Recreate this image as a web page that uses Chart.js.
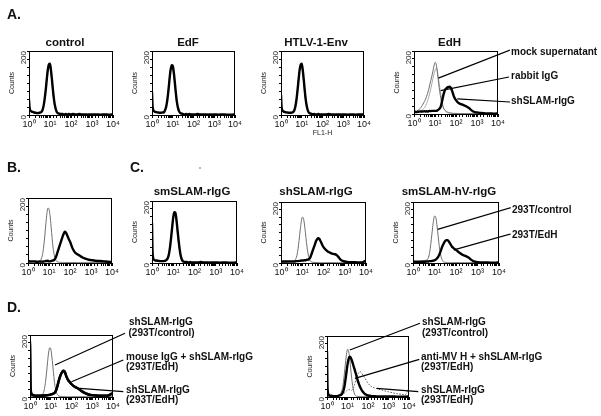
<!DOCTYPE html>
<html>
<head>
<meta charset="utf-8">
<script src="https://cdn.jsdelivr.net/npm/chart.js@4"></script>
<style>
html, body { margin: 0; padding: 0; background: #fff; }
#fig { position: relative; width: 601px; height: 416px; overflow: hidden; }
#fig canvas { position: absolute; }
#notes { position: absolute; left: 0; top: 0; }
</style>
</head>
<body>
<div id="fig"></div>
<script>
// FL1-H channel values (log spaced, 10^0 .. 10^4)
var fl1 = [1, 1.07, 1.26, 1.58, 2, 2.51,
  3.16, 3.55, 3.98, 4.47, 5.01, 5.62, 6.31, 7.08, 7.94, 8.91,
  10, 11.2, 12.6, 14.1, 15.8, 17.8, 20, 22.4, 25.1, 28.2,
  31.6, 35.5, 39.8, 44.7, 50.1, 56.2, 63.1, 70.8, 79.4, 89.1,
  100, 126, 158, 200, 251, 316, 398, 501, 631, 794,
  1000, 1585, 2512, 3981, 6310, 10000];
var decadeLabels = ['10\u2070', '10\u00b9', '10\u00b2', '10\u00b3', '10\u2074'];
var countTicks = [0, 200];

// A. control / EdF / HTLV-1-Env / EdH
var controlStain = [48, 22, 12, 9, 7, 6,
  7, 8, 10, 17, 30, 52, 80, 114, 143, 158,
  160, 138, 106, 72, 44, 25, 13, 7, 5, 4,
  3, 3, 3, 2, 2, 3, 2, 2, 3, 2,
  2, 3, 2, 2, 3, 2, 2, 2, 1, 2,
  2, 2, 1, 2, 1, 2];
var controlIso = [40, 18, 10, 8, 6, 6,
  6, 8, 11, 18, 32, 55, 84, 118, 142, 152,
  150, 130, 98, 66, 40, 22, 12, 6, 4, 3,
  2, 2, 2, 1, 2, 1, 1, 2, 1, 1,
  1, 1, 2, 1, 1, 1, 1, 1, 1, 1,
  1, 1, 1, 1, 1, 1];
var edfStain = [72, 26, 12, 9, 8, 7,
  8, 8, 11, 18, 31, 53, 82, 115, 142, 156,
  154, 134, 102, 69, 41, 23, 12, 7, 5, 4,
  3, 2, 2, 3, 2, 2, 3, 2, 2, 2,
  2, 2, 3, 2, 2, 2, 2, 1, 2, 1,
  2, 1, 2, 1, 1, 2];
var edfIso = [58, 20, 10, 8, 7, 6,
  7, 9, 12, 20, 34, 58, 88, 120, 143, 150,
  145, 124, 92, 60, 36, 20, 11, 6, 4, 3,
  2, 2, 1, 2, 1, 1, 2, 1, 1, 1,
  1, 1, 1, 1, 2, 1, 1, 1, 1, 1,
  1, 1, 1, 1, 1, 1];
var htlvStain = [63, 24, 12, 9, 8, 7,
  7, 8, 10, 16, 29, 50, 79, 112, 142, 157,
  160, 140, 108, 74, 45, 25, 13, 7, 5, 4,
  3, 2, 3, 2, 2, 2, 3, 2, 2, 2,
  2, 2, 2, 3, 2, 2, 1, 2, 2, 1,
  2, 1, 2, 1, 2, 1];
var htlvIso = [50, 18, 10, 8, 7, 6,
  6, 8, 11, 18, 31, 54, 85, 118, 141, 150,
  150, 130, 97, 64, 38, 21, 11, 6, 4, 3,
  2, 2, 2, 1, 1, 2, 1, 1, 1, 1,
  1, 1, 1, 1, 1, 1, 2, 1, 1, 1,
  1, 1, 1, 1, 1, 1];
var edhMock = [5, 5, 8, 12, 18, 28,
  40, 47, 56, 66, 78, 92, 106, 120, 136, 152,
  164, 160, 140, 112, 84, 60, 40, 28, 19, 14,
  11, 8, 6, 5, 4, 3, 3, 2, 2, 2,
  2, 1, 1, 1, 1, 1, 1, 1, 1, 1,
  1, 1, 1, 1, 1, 1];
var edhRabbit = [3, 3, 4, 6, 9, 14,
  20, 26, 33, 42, 53, 66, 80, 96, 112, 126,
  138, 145, 140, 120, 96, 74, 54, 36, 22, 13,
  8, 5, 4, 3, 2, 2, 2, 1, 1, 1,
  1, 1, 1, 1, 1, 1, 1, 1, 1, 1,
  1, 1, 1, 1, 1, 1];
var edhStain = [12, 8, 6, 7, 8, 8,
  9, 8, 9, 8, 9, 10, 9, 10, 10, 10,
  10, 10, 11, 13, 16, 20, 30, 45, 60, 72,
  79, 82, 85, 86, 87, 84, 76, 66, 56, 49,
  44, 36, 32, 30, 27, 24, 20, 14, 9, 6,
  5, 3, 2, 2, 1, 2];

// B.
var bIso = [3, 2, 2, 2, 3, 4,
  3, 5, 9, 16, 29, 52, 84, 120, 152, 169,
  166, 146, 112, 76, 45, 24, 12, 6, 4, 3,
  2, 2, 2, 1, 2, 1, 1, 2, 1, 1,
  1, 1, 2, 1, 1, 1, 1, 1, 1, 1,
  1, 1, 1, 1, 1, 1];
var bStain = [8, 6, 5, 5, 5, 4,
  4, 5, 4, 5, 4, 5, 5, 6, 6, 7,
  5, 5, 6, 7, 8, 10, 14, 22, 32, 42,
  52, 62, 72, 82, 90, 96, 94, 88, 80, 72,
  66, 48, 36, 29, 25, 21, 17, 14, 12, 10,
  9, 7, 6, 5, 4, 3];

// C. smSLAM-rIgG / shSLAM-rIgG / smSLAM-hV-rIgG
var smStain = [130, 30, 10, 8, 7, 6,
  6, 6, 7, 8, 11, 17, 30, 52, 82, 116,
  147, 164, 162, 141, 108, 74, 45, 24, 12, 6,
  4, 3, 3, 3, 2, 2, 3, 2, 2, 2,
  2, 2, 2, 3, 2, 2, 2, 1, 2, 2,
  2, 1, 2, 1, 1, 2];
var smIso = [100, 25, 8, 6, 6, 5,
  5, 6, 7, 9, 13, 20, 33, 55, 86, 118,
  146, 158, 152, 130, 98, 66, 40, 21, 10, 5,
  3, 2, 2, 2, 1, 1, 1, 1, 1, 1,
  1, 1, 1, 1, 1, 1, 1, 1, 1, 1,
  1, 1, 1, 1, 1, 1];
var shStain = [6, 5, 5, 5, 5, 5,
  5, 5, 5, 5, 6, 6, 6, 7, 7, 8,
  8, 8, 9, 9, 10, 11, 12, 15, 22, 32,
  42, 52, 62, 72, 78, 81, 79, 73, 66, 58,
  52, 44, 38, 34, 31, 29, 27, 20, 11, 7,
  5, 3, 3, 2, 2, 8];
var shIso = [3, 2, 2, 3, 4, 5,
  6, 6, 7, 9, 14, 25, 46, 74, 105, 133,
  150, 148, 128, 99, 67, 40, 21, 10, 5, 3,
  2, 2, 2, 1, 1, 2, 1, 1, 1, 1,
  1, 1, 1, 1, 1, 1, 1, 1, 1, 1,
  1, 1, 1, 1, 1, 1];
var hvStain = [8, 5, 4, 4, 4, 4,
  4, 4, 5, 5, 5, 6, 6, 6, 7, 8,
  9, 11, 14, 18, 24, 32, 42, 52, 60, 67,
  72, 75, 75, 72, 67, 61, 55, 51, 48, 45,
  43, 37, 32, 27, 24, 21, 17, 11, 6, 4,
  3, 2, 2, 1, 1, 2];
var hvIso = [2, 2, 2, 3, 5, 7,
  8, 8, 9, 10, 15, 26, 47, 76, 108, 137,
  154, 152, 132, 102, 69, 41, 22, 11, 5, 3,
  2, 2, 1, 2, 1, 1, 1, 1, 1, 1,
  1, 1, 1, 1, 1, 1, 1, 1, 1, 1,
  1, 1, 1, 1, 1, 1];

// D.
var dlIso = [3, 2, 2, 2, 3, 4,
  6, 7, 9, 14, 27, 50, 80, 115, 145, 159,
  155, 132, 100, 66, 38, 20, 10, 5, 3, 2,
  2, 2, 1, 2, 1, 1, 1, 1, 1, 1,
  1, 1, 1, 1, 1, 1, 1, 1, 1, 1,
  1, 1, 1, 1, 1, 1];
var dlMouse = [180, 30, 8, 5, 4, 4,
  4, 4, 4, 5, 5, 5, 5, 6, 6, 7,
  8, 9, 10, 12, 14, 20, 30, 42, 55, 66,
  74, 80, 84, 84, 78, 68, 60, 54, 50, 46,
  42, 36, 32, 28, 24, 19, 15, 12, 9, 7,
  6, 5, 4, 4, 5, 12];
var dlStain = [170, 25, 7, 5, 4, 4,
  4, 4, 5, 5, 5, 6, 6, 6, 7, 7,
  8, 9, 10, 12, 15, 21, 31, 44, 56, 67,
  75, 81, 85, 83, 76, 66, 59, 53, 49, 45,
  41, 35, 31, 28, 23, 18, 14, 11, 8, 7,
  6, 5, 4, 4, 6, 14];
var drCtrl = [3, 2, 2, 2, 3, 4,
  5, 5, 7, 10, 16, 27, 48, 78, 111, 140,
  156, 152, 130, 98, 65, 38, 20, 9, 4, 2,
  2, 2, 2, 1, 1, 1, 1, 1, 1, 1,
  1, 1, 1, 1, 1, 1, 1, 1, 1, 1,
  1, 1, 1, 1, 1, 1];
var drAnti = [150, 25, 6, 4, 3, 3,
  3, 4, 5, 6, 8, 12, 20, 34, 56, 82,
  106, 124, 132, 130, 122, 112, 100, 90, 78, 66,
  54, 44, 35, 28, 22, 17, 13, 10, 8, 6,
  5, 4, 3, 3, 2, 2, 2, 2, 2, 2,
  2, 2, 1, 1, 1, 2];
var drEdH = [3, 2, 2, 2, 2, 2,
  3, 3, 4, 5, 6, 8, 10, 13, 16, 20,
  23, 25, 24, 22, 22, 25, 32, 42, 55, 66,
  75, 80, 83, 82, 78, 72, 67, 62, 56, 50,
  45, 38, 33, 30, 28, 26, 24, 22, 20, 19,
  17, 14, 11, 9, 7, 30];

Chart.defaults.font.family = '"Liberation Sans", Arial, Helvetica, sans-serif';
Chart.defaults.color = '#111';

var fig = document.getElementById('fig');
var BLACK = { color: '#000', width: 2.4 };
var GRAY = { color: '#6f6f6f', width: 1 };
var LIGHT = { color: '#a8a8a8', width: 1 };
var DOTS = { color: '#555', width: 1, dash: [1.5, 1.5] };

// box outline round the plot area
var frame = {
  id: 'frame',
  afterDatasetsDraw: function(chart) {
    var a = chart.chartArea, g = chart.ctx;
    g.save();
    g.strokeStyle = '#000';
    g.lineWidth = 1;
    g.strokeRect(a.left + 0.5, a.top + 0.5, a.right - a.left - 1, a.bottom - a.top);
    g.restore();
  }
};

function decadeTick(v) {
  var k = Math.round(Math.log10(v));
  return Math.abs(v - Math.pow(10, k)) < 1e-6 * v ? decadeLabels[k] : '';
}

// box = [left, top, right, bottom] of the plot area on the page
function histogram(box, lines, xTitle) {
  var yw = 22, pt = 6, pr = 8, xh = xTitle ? 22 : 15;
  var c = document.createElement('canvas');
  c.width = box[2] - box[0] + yw + pr;
  c.height = box[3] - box[1] + pt + xh;
  c.style.left = (box[0] - yw) + 'px';
  c.style.top = (box[1] - pt) + 'px';
  fig.appendChild(c);
  var chart = new Chart(c.getContext('2d'), {
    type: 'line',
    data: {
      datasets: lines.map(function(l) {
        return {
          data: fl1.map(function(x, i) { return { x: x, y: l.values[i] }; }),
          borderColor: l.style.color,
          borderWidth: l.style.width,
          borderDash: l.style.dash || [],
          pointRadius: 0,
          fill: false,
          cubicInterpolationMode: 'monotone'
        };
      })
    },
    options: {
      responsive: false,
      animation: false,
      events: [],
      layout: { autoPadding: false, padding: { left: 0, top: pt, right: pr, bottom: 0 } },
      plugins: { legend: { display: false }, tooltip: { enabled: false } },
      scales: {
        x: {
          type: 'logarithmic', min: 1, max: 10000,
          grid: { drawOnChartArea: false, tickLength: 3, color: '#000' },
          border: { color: '#000', width: 1 },
          ticks: { autoSkip: false, maxRotation: 0, minRotation: 0, padding: 1,
                   font: { size: 9 }, color: '#111', callback: decadeTick },
          title: { display: !!xTitle, text: xTitle || '', font: { size: 7 }, padding: 0, color: '#222' },
          afterFit: function(s) { s.height = xh; s.paddingLeft = 0; s.paddingRight = 0; }
        },
        y: {
          min: 0, max: 200,
          grid: { drawOnChartArea: false, tickLength: 2, color: '#000' },
          border: { color: '#000', width: 1 },
          ticks: { stepSize: 25, autoSkip: false, minRotation: 90, maxRotation: 90, padding: 3,
                   font: { size: 8 }, color: '#222',
                   callback: function(v) { return countTicks.indexOf(v) >= 0 ? String(v) : ''; } },
          title: { display: true, text: 'Counts', font: { size: 7 }, padding: { top: 1, bottom: 0 }, color: '#222' },
          afterFit: function(s) { s.width = yw; s.paddingTop = 0; s.paddingBottom = 0; }
        }
      }
    },
    plugins: [frame]
  });
  chart.pageOffset = [box[0] - yw, box[1] - pt];
  return chart;
}

var cControl = histogram([29, 51, 113, 115], [
  { values: controlStain, style: BLACK }, { values: controlIso, style: GRAY }]);
var cEdF = histogram([152, 51, 235, 115], [
  { values: edfStain, style: BLACK }, { values: edfIso, style: GRAY }]);
var cHtlv = histogram([281, 51, 364, 115], [
  { values: htlvStain, style: BLACK }, { values: htlvIso, style: GRAY }], 'FL1-H');
var cEdH = histogram([414, 51, 498, 114], [
  { values: edhStain, style: BLACK }, { values: edhMock, style: GRAY }, { values: edhRabbit, style: LIGHT }]);
var cB = histogram([28, 198, 112, 263], [
  { values: bStain, style: BLACK }, { values: bIso, style: GRAY }]);
var cSm = histogram([152, 201, 237, 263], [
  { values: smStain, style: BLACK }, { values: smIso, style: GRAY }]);
var cSh = histogram([281, 202, 366, 263], [
  { values: shStain, style: BLACK }, { values: shIso, style: GRAY }]);
var cHv = histogram([413, 202, 499, 263], [
  { values: hvStain, style: BLACK }, { values: hvIso, style: GRAY }]);
var cDl = histogram([30, 335, 113, 397], [
  { values: dlMouse, style: BLACK }, { values: dlStain, style: BLACK }, { values: dlIso, style: GRAY }]);
var cDr = histogram([327, 336, 409, 397], [
  { values: drAnti, style: BLACK }, { values: drCtrl, style: GRAY }, { values: drEdH, style: DOTS }]);

// text and leader lines drawn over the charts
function lead(chart, x, y, tx, ty) {
  var px = chart.pageOffset[0] + chart.scales.x.getPixelForValue(x);
  var py = chart.pageOffset[1] + chart.scales.y.getPixelForValue(y);
  return '<line x1="' + px + '" y1="' + py + '" x2="' + tx + '" y2="' + ty + '"/>';
}
function txt(x, y, s, size, anchor) {
  return '<text x="' + x + '" y="' + y + '" font-size="' + size + '"' +
    (anchor ? ' text-anchor="' + anchor + '"' : '') + '>' + s + '</text>';
}

var svg = '<svg id="notes" width="601" height="416" xmlns="http://www.w3.org/2000/svg">' +
  '<g font-family="Liberation Sans, Arial, sans-serif" font-weight="bold" fill="#111">' +
  txt(7, 19, 'A.', 14) + txt(7, 172, 'B.', 14) + txt(130, 172, 'C.', 14) + txt(7, 312, 'D.', 14) +
  txt(65, 46, 'control', 11.5, 'middle') +
  txt(188, 46, 'EdF', 11.5, 'middle') +
  txt(316, 46, 'HTLV-1-Env', 11.5, 'middle') +
  txt(449.5, 45.5, 'EdH', 11.5, 'middle') +
  txt(192, 194.5, 'smSLAM-rIgG', 11.5, 'middle') +
  txt(316, 195, 'shSLAM-rIgG', 11.5, 'middle') +
  txt(449, 195, 'smSLAM-hV-rIgG', 11.5, 'middle') +
  txt(511, 55, 'mock supernatant', 10) +
  txt(511, 78.5, 'rabbit IgG', 10) +
  txt(511, 104, 'shSLAM-rIgG', 10) +
  txt(512, 212.5, '293T/control', 10) +
  txt(512, 238, '293T/EdH', 10) +
  txt(129, 325, 'shSLAM-rIgG', 10) + txt(128.5, 335.5, '(293T/control)', 10) +
  txt(126, 360, 'mouse IgG + shSLAM-rIgG', 10) + txt(126, 370, '(293T/EdH)', 10) +
  txt(126, 393, 'shSLAM-rIgG', 10) + txt(126, 403, '(293T/EdH)', 10) +
  txt(422, 325, 'shSLAM-rIgG', 10) + txt(422, 335.5, '(293T/control)', 10) +
  txt(421, 360, 'anti-MV H + shSLAM-rIgG', 10) + txt(421, 370, '(293T/EdH)', 10) +
  txt(421, 392.5, 'shSLAM-rIgG', 10) + txt(421, 402.5, '(293T/EdH)', 10) +
  '</g><g stroke="#000" stroke-width="1.2">' +
  lead(cEdH, 14.5, 114, 510, 50) +
  lead(cEdH, 18.6, 74, 509, 77) +
  lead(cEdH, 115, 48, 510, 102) +
  lead(cHv, 14, 110, 510.7, 207.7) +
  lead(cHv, 80, 43, 510.7, 234) +
  lead(cDl, 16, 103, 125, 333.3) +
  lead(cDl, 100, 49, 123.3, 360) +
  lead(cDl, 250, 28, 123.3, 391.7) +
  lead(cDr, 13, 154, 420, 323.3) +
  lead(cDr, 23, 61, 419.3, 359.3) +
  lead(cDr, 265, 28.5, 418.3, 391.7) +
  '</g><circle cx="200" cy="168" r="0.8" fill="#666"/></svg>';
fig.insertAdjacentHTML('beforeend', svg);
</script>
</body>
</html>
